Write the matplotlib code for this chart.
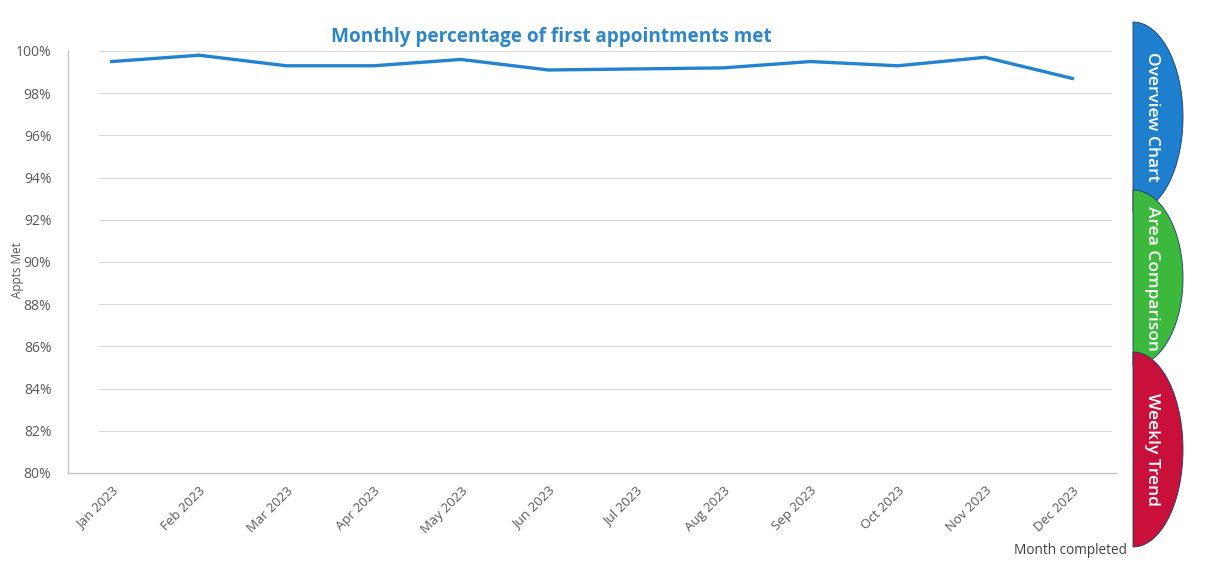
import numpy as np
import matplotlib.pyplot as plt
from matplotlib.patches import Polygon
from matplotlib.ticker import FuncFormatter

plt.rcParams['font.family'] = ['Open Sans', 'DejaVu Sans']

months = ['Jan 2023', 'Feb 2023', 'Mar 2023', 'Apr 2023', 'May 2023', 'Jun 2023',
          'Jul 2023', 'Aug 2023', 'Sep 2023', 'Oct 2023', 'Nov 2023', 'Dec 2023']
pct_met = [99.5, 99.8, 99.3, 99.3, 99.6, 99.1, 99.15, 99.2, 99.5, 99.3, 99.7, 98.7]

y_ticks = list(range(80, 101, 2))

tabs = ['Overview Chart', 'Area Comparison', 'Weekly Trend']
tab_colors = ['#1f7fcf', '#3cb83c', '#c8103a']

W, H = 1208, 575
fig = plt.figure(figsize=(W / 100, H / 100), dpi=100)
fig.patch.set_facecolor('white')

ax = fig.add_axes([68 / W, (H - 473) / H, (1116 - 68) / W, (473 - 51) / H])
x = np.arange(len(months))
ax.set_xlim(-0.5, len(months) - 0.5)
ax.set_ylim(80, 100)

for t in y_ticks[1:]:
    ax.axhline(t, xmin=0.03, xmax=0.995, color='#d9d9d9', lw=0.8, zorder=1)

ax.plot(x, pct_met, color='#2483d0', lw=2.4, solid_joinstyle='round', zorder=3)

ax.set_yticks(y_ticks)
ax.yaxis.set_major_formatter(FuncFormatter(lambda v, _: f'{v:.0f}%'))
ax.set_xticks(x)
ax.set_xticklabels(months, rotation=45, ha='right', rotation_mode='anchor')
ax.tick_params(axis='y', length=0, labelsize=10, labelcolor='#595959', pad=12)
ax.tick_params(axis='x', length=0, labelsize=9.5, labelcolor='#595959', pad=8)

for side in ['top', 'right']:
    ax.spines[side].set_visible(False)
for side in ['left', 'bottom']:
    ax.spines[side].set_color('#bfbfbf')
    ax.spines[side].set_linewidth(0.9)

fig.text(551 / W, 1 - 37 / H, 'Monthly percentage of first appointments met',
         ha='center', va='center', fontsize=13.7, fontweight='bold', color='#2e86c8')
fig.text(18 / W, 1 - 270 / H, 'Appts Met', rotation=90, ha='center', va='center',
         fontsize=8.5, color='#595959')
fig.text(1070 / W, 1 - 551 / H, 'Month completed', ha='center', va='center',
         fontsize=9.8, color='#404040')

# navigation tabs on the right edge, drawn in pixel space
nav = fig.add_axes([0, 0, 1, 1])
nav.set_xlim(0, W)
nav.set_ylim(H, 0)
nav.axis('off')
spans = [(22, 212), (190, 366), (352, 547)]
for label, color, (top, bottom) in zip(tabs, tab_colors, spans):
    th = np.linspace(-np.pi / 2, np.pi / 2, 80)
    yc = (top + bottom) / 2
    pts = np.column_stack([1133 + 50 * np.cos(th), yc + (bottom - top) / 2 * np.sin(th)])
    nav.add_patch(Polygon(pts, closed=True, facecolor=color, edgecolor='#1a3a6a', lw=0.6))
    nav.text(1152, yc, label, rotation=-90, ha='center', va='center',
             fontsize=12.5, fontweight='semibold', color='white')

fig.savefig('out.png', dpi=100)
